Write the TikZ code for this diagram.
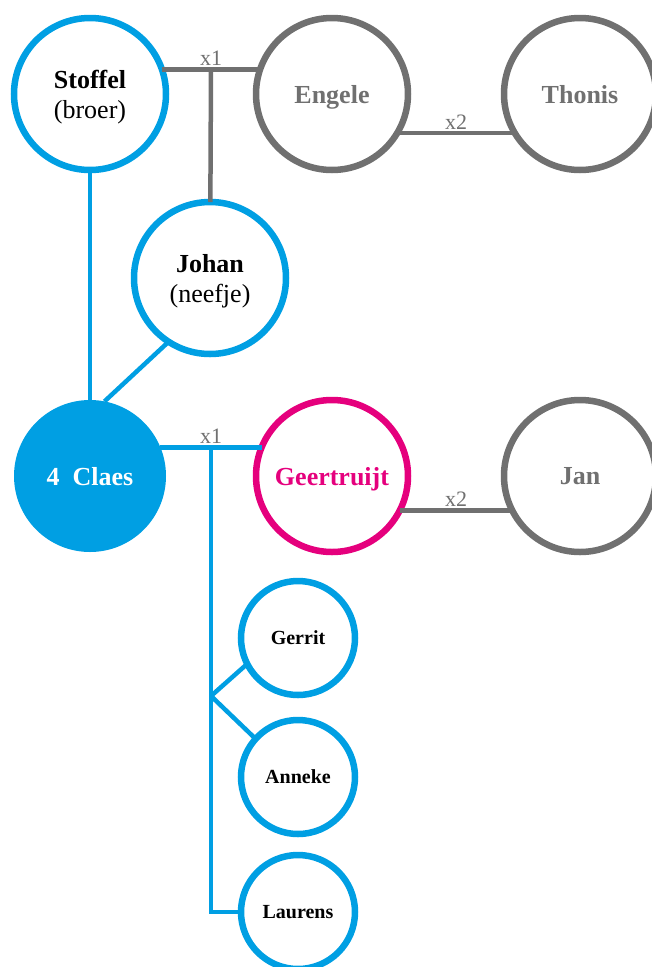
\documentclass[tikz,border=0pt]{standalone}
\usepackage{fontspec}
\setmainfont{Liberation Serif}
\definecolor{kblauw}{HTML}{009FE3}
\definecolor{kgrijs}{HTML}{707070}
\definecolor{kroze}{HTML}{E5007D}
\begin{document}
\begin{tikzpicture}[x=1pt,y=-1pt,
	persoon/.style={circle,draw=kblauw,line width=6.5pt,minimum size=152pt,inner sep=0pt,outer sep=0pt,text depth=0pt,align=center,font=\fontsize{26}{30}\selectfont},
	naam/.style={font=\fontsize{26}{30}\selectfont\bfseries},
	aangetrouwd/.style={persoon,naam,draw=kgrijs,text=kgrijs},
	kind/.style={persoon,minimum size=114pt,font=\fontsize{20}{24}\selectfont\bfseries},
	lijn/.style={line width=4.5pt,kblauw},
	huwelijk/.style={line width=4.5pt,kgrijs},
	nr/.style={above,text=kgrijs,inner sep=1.5pt,font=\fontsize{22}{22}\selectfont}]
	\useasboundingbox (0,0) rectangle (651,967);
	\node [persoon] (stoffel) at (90,94) {\textbf{Stoffel}\\(broer)};
	\node [aangetrouwd] (engele) at (332,94) {Engele};
	\node [aangetrouwd] (thonis) at (580,94) {Thonis};
	\node [persoon] (johan) at (210,278) {\textbf{Johan}\\(neefje)};
	\node [persoon,naam,draw=none,fill=kblauw,text=white] (claes) at (90,476) {4\ \ Claes};
	\node [persoon,naam,draw=kroze,text=kroze] (geertruijt) at (332,476) {Geertruijt};
	\node [aangetrouwd] (jan) at (580,476) {Jan};
	\node [kind] (gerrit) at (298,638) {Gerrit};
	\node [kind] (anneke) at (298,777) {Anneke};
	\node [kind] (laurens) at (298,912) {Laurens};
	\draw [huwelijk] (stoffel.19) -- node [nr] {x1} coordinate (m1) (engele.161);
	\draw [huwelijk] (m1) -- (johan);
	\draw [huwelijk] (engele.-31) -- node [nr] {x2} (thonis.211);
	\draw [lijn] (stoffel) -- (claes);
	\draw [lijn] (johan.237) -- (claes.79);
	\draw [lijn] (claes.22) -- node [nr] {x1} coordinate (m2) (geertruijt.158);
	\draw [huwelijk] (geertruijt.-27) -- node [nr] {x2} (jan.207);
	\draw [lijn] (m2) |- (laurens);
	\coordinate (k) at (m2 |- 0,696);
	\draw [lijn] (k) -- (gerrit.207);
	\draw [lijn] (k) -- (anneke.138);
\end{tikzpicture}
\end{document}
